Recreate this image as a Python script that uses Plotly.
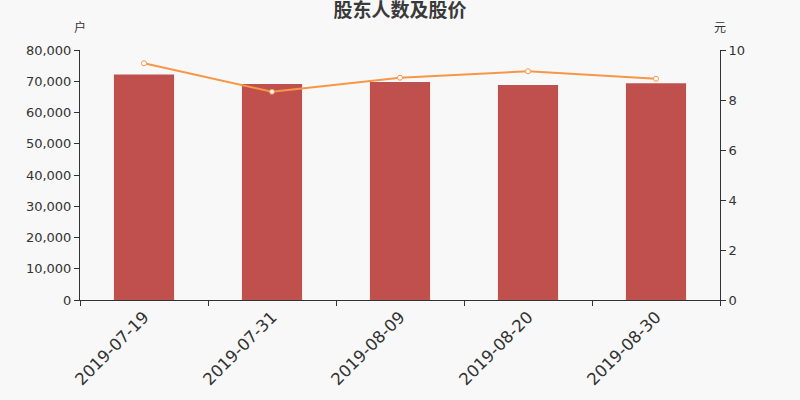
import plotly.graph_objects as go

# Données
dates = ["2019-07-19", "2019-07-31", "2019-08-09", "2019-08-20", "2019-08-30"]
holders = [72200, 69100, 69800, 68800, 69400]
prices = [9.47, 8.33, 8.89, 9.15, 8.85]

FONT = "DejaVu Sans, Noto Sans CJK SC, sans-serif"
AXIS_COLOR = "#333333"

bar_trace = go.Bar(
    x=dates, y=holders,
    marker=dict(color="#c0504d", line_width=0),
    width=0.47,
    hoverinfo="x+y",
    name="股东人数"
)

line_trace = go.Scatter(
    x=dates, y=prices,
    mode="lines+markers",
    yaxis="y2",
    line=dict(color="#f79646", width=2),
    marker=dict(symbol="circle", size=5, color="white",
                line=dict(color="#f79646", width=1)),
    name="股价"
)

fig = go.Figure(data=[bar_trace, line_trace])

fig.update_layout(
    width=800, height=400,
    paper_bgcolor="#f8f8f8",
    plot_bgcolor="#f8f8f8",
    showlegend=False,
    margin=dict(l=80, r=80, t=50, b=100),
    font=dict(family=FONT, color=AXIS_COLOR, size=13),
    title=dict(text="<b>股东人数及股价</b>", x=0.5, xanchor="center",
               y=0.99, yanchor="top", font=dict(size=19, color="#3a3a3a")),
    xaxis=dict(
        type="category",
        showline=True, linecolor=AXIS_COLOR, linewidth=1,
        ticks="outside", ticklen=5, tickcolor=AXIS_COLOR,
        tickson="boundaries",
        tickangle=-45,
        tickfont=dict(size=16.5, color=AXIS_COLOR),
        showgrid=False, zeroline=False,
    ),
    yaxis=dict(
        range=[0, 80000], dtick=10000,
        tickformat=",d",
        showline=True, linecolor=AXIS_COLOR, linewidth=1,
        ticks="outside", ticklen=5, tickcolor=AXIS_COLOR,
        showgrid=False, zeroline=False,
    ),
    yaxis2=dict(
        range=[0, 10], dtick=2,
        overlaying="y", side="right",
        showline=True, linecolor=AXIS_COLOR, linewidth=1,
        ticks="outside", ticklen=5, tickcolor=AXIS_COLOR,
        showgrid=False, zeroline=False,
    ),
    annotations=[
        dict(text="户", xref="paper", yref="paper", x=0, y=1.05,
             xanchor="center", yanchor="bottom", showarrow=False,
             font=dict(size=12, color=AXIS_COLOR)),
        dict(text="元", xref="paper", yref="paper", x=1, y=1.05,
             xanchor="center", yanchor="bottom", showarrow=False,
             font=dict(size=12, color=AXIS_COLOR)),
    ],
)

# marge par défaut du <body> supprimée pour caler la figure sur la fenêtre
fig.write_html("out.html", config={"displayModeBar": False},
               post_script="document.body.style.margin='0';")
